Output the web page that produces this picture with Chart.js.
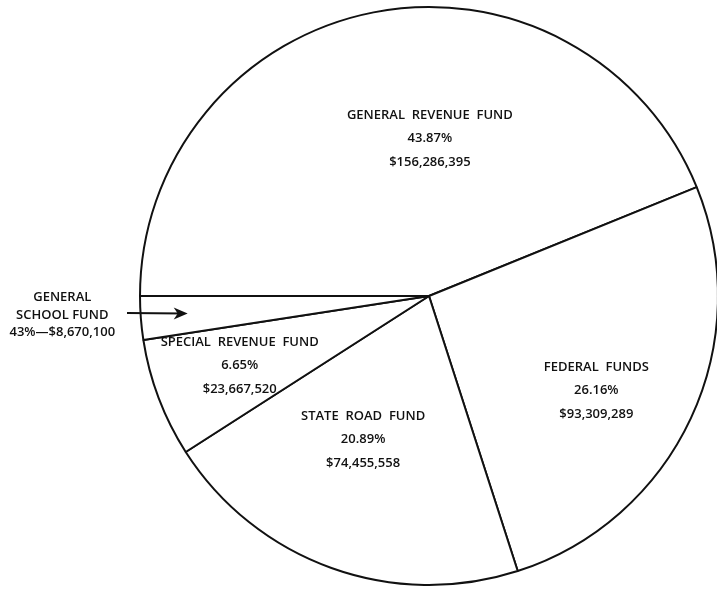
<!DOCTYPE html>
<html>
<head>
<meta charset="utf-8">
<script src="https://cdn.jsdelivr.net/npm/chart.js@4/dist/chart.umd.min.js"></script>
<style>
  html, body { margin: 0; padding: 0; background: #fff; overflow: hidden; width: 717px; height: 589px; }
  #wrap { position: absolute; left: 0; top: 0; width: 740px; height: 589px; }
</style>
</head>
<body>
<div id="wrap"><canvas id="c" width="740" height="589"></canvas></div>
<script>
// ---- data ----
const categories = ["GENERAL REVENUE FUND", "FEDERAL FUNDS", "STATE ROAD FUND", "SPECIAL REVENUE FUND", "GENERAL SCHOOL FUND"];
const amounts = [156286395, 93309289, 74455558, 23667520, 8670100];
const percentLabels = ["43.87%", "26.16%", "20.89%", "6.65%", "2.43%"];
const amountLabels = ["$156,286,395", "$93,309,289", "$74,455,558", "$23,667,520", "$8,670,100"];

// ---- layout of labels (relative to pie centre, in units of radius) ----
const labelLayout = [
  { dx: 0.003, dy: -0.545, inside: true },
  { dx: 0.579, dy: 0.328, inside: true },
  { dx: -0.228, dy: 0.497, inside: true },
  { dx: -0.655, dy: 0.241, inside: true },
  { dx: -1.269, dy: 0.066, inside: false }
];

const FONT = '600 13px "Open Sans", Lato, sans-serif';

const labelPlugin = {
  id: 'pieLabels',
  afterDatasetsDraw(chart) {
    const ctx = chart.ctx;
    const arc = chart.getDatasetMeta(0).data[0];
    const cx = arc.x, cy = arc.y, r = arc.outerRadius;
    ctx.save();
    ctx.fillStyle = '#111';
    ctx.font = FONT;
    ctx.textAlign = 'center';
    ctx.textBaseline = 'middle';
    labelLayout.forEach((L, i) => {
      const x = cx + L.dx * r, y = cy + L.dy * r;
      if (L.inside) {
        const lh = 23.5;
        ctx.fillText(categories[i].split(' ').join('  '), x, y - lh);
        ctx.fillText(percentLabels[i], x, y);
        ctx.fillText(amountLabels[i], x, y + lh);
      } else {
        const words = categories[i].split(' ');
        const lh = 17.5;
        ctx.fillText(words[0], x, y - lh);
        ctx.fillText(words.slice(1).join(' '), x, y);
        // as printed in the original (leading "2." lost)
        ctx.fillText(percentLabels[i].replace(/^2\./, '') + '\u2014' + amountLabels[i], x, y + lh);
        // arrow pointing into the slice
        const ax0 = cx - 1.045 * r, ax1 = cx - 0.835 * r, ay = y - 2;
        ctx.strokeStyle = '#111';
        ctx.lineWidth = 2;
        ctx.beginPath();
        ctx.moveTo(ax0, ay);
        ctx.lineTo(ax1 - 4, ay + 0.5);
        ctx.stroke();
        ctx.beginPath();
        ctx.moveTo(ax1, ay + 0.5);
        ctx.lineTo(ax1 - 14, ay - 5.5);
        ctx.lineTo(ax1 - 10, ay + 0.5);
        ctx.lineTo(ax1 - 14, ay + 6.5);
        ctx.closePath();
        ctx.fillStyle = '#111';
        ctx.fill();
      }
    });
    ctx.restore();
  }
};

new Chart(document.getElementById('c'), {
  type: 'pie',
  data: {
    labels: categories,
    datasets: [{
      data: amounts,
      backgroundColor: '#ffffff',
      borderColor: '#111111',
      borderWidth: 2,
      borderAlign: 'center',
      hoverOffset: 0
    }]
  },
  options: {
    responsive: false,
    animation: false,
    rotation: 270,
    layout: { padding: { left: 139, right: 21, top: 6, bottom: 3 } },
    plugins: { legend: { display: false }, tooltip: { enabled: false } },
    events: []
  },
  plugins: [labelPlugin]
});
</script>
</body>
</html>
